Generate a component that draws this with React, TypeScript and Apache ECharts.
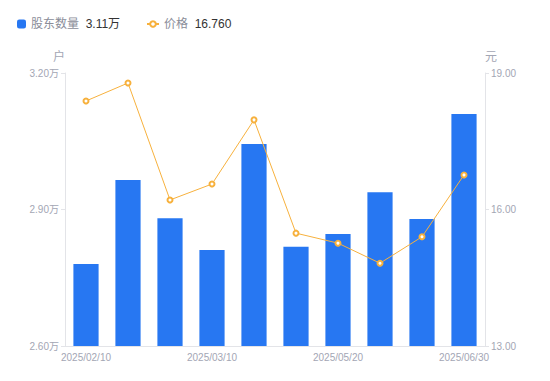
import React, { useEffect, useRef } from "react";
import * as echarts from "echarts";

const categories = [
  "2025/02/10", "2025/02/20", "2025/02/28", "2025/03/10", "2025/03/31",
  "2025/04/10", "2025/05/20", "2025/05/31", "2025/06/20", "2025/06/30",
];
const holders = [2.78, 2.965, 2.881, 2.811, 3.044, 2.818, 2.846, 2.938, 2.879, 3.11];
const prices = [18.385, 18.78, 16.21, 16.56, 17.97, 15.48, 15.26, 14.82, 15.4, 16.76];
const holderTicks = { min: 2.6, max: 3.2, interval: 0.3 };
const priceTicks = { min: 13, max: 19, interval: 3 };

export default function App() {
  const ref = useRef<HTMLDivElement>(null);
  useEffect(() => {
    document.body.style.margin = "0";
    if (!ref.current) return;
    const chart = echarts.init(ref.current, null, { renderer: "svg" });
    const labelColor = "#a3a6b4";
    const lineColor = "#e3e4e8";
    const fontFamily = "'Liberation Sans', 'Noto Sans CJK SC', sans-serif";
    const lastH = holders[holders.length - 1];
    const lastP = prices[prices.length - 1];
    const rich = {
      n: { color: "#8a8d99", fontSize: 12, fontFamily },
      v: { color: "#333333", fontSize: 12, fontFamily },
    };
    chart.setOption({
      animation: false,
      textStyle: { fontFamily },
      legend: [
        {
          left: 12,
          top: 13,
          itemWidth: 9,
          itemHeight: 9,
          itemGap: 5,
          data: [{ name: "股东数量", icon: "roundRect" }],
          formatter: (name: string) => `{n|${name}}  {v|${lastH.toFixed(2)}万}`,
          textStyle: { rich },
        },
        {
          left: 141,
          top: 13,
          itemWidth: 12,
          itemHeight: 7,
          data: [{ name: "价格" }],
          formatter: (name: string) => `{n|${name}}  {v|${lastP.toFixed(3)}}`,
          textStyle: { rich },
        },
      ],
      grid: { left: 65, right: 65, top: 73, bottom: 35 },
      xAxis: {
        type: "category",
        data: categories,
        axisLine: { lineStyle: { color: lineColor } },
        axisTick: { show: false },
        axisLabel: { color: labelColor, fontSize: 10, interval: 2, margin: 6 },
      },
      yAxis: [
        {
          type: "value",
          name: "户",
          nameTextStyle: { color: labelColor, fontSize: 12, align: "right" },
          nameGap: 10,
          min: holderTicks.min,
          max: holderTicks.max,
          interval: holderTicks.interval,
          axisLine: { show: true, lineStyle: { color: lineColor } },
          axisTick: { show: true, length: 4, lineStyle: { color: lineColor } },
          splitLine: { show: false },
          axisLabel: {
            color: labelColor,
            fontSize: 10,
            margin: 6,
            formatter: (v: number) => v.toFixed(2) + "万",
          },
        },
        {
          type: "value",
          name: "元",
          nameTextStyle: { color: labelColor, fontSize: 12, align: "left" },
          nameGap: 10,
          min: priceTicks.min,
          max: priceTicks.max,
          interval: priceTicks.interval,
          axisLine: { show: true, lineStyle: { color: lineColor } },
          axisTick: { show: true, length: 4, lineStyle: { color: lineColor } },
          splitLine: { show: false },
          axisLabel: {
            color: labelColor,
            fontSize: 10,
            margin: 6,
            formatter: (v: number) => v.toFixed(2),
          },
        },
      ],
      series: [
        {
          name: "股东数量",
          type: "bar",
          data: holders,
          barWidth: "60%",
          itemStyle: { color: "#2777f2" },
        },
        {
          name: "价格",
          type: "line",
          yAxisIndex: 1,
          data: prices,
          symbol: "emptyCircle",
          symbolSize: 5,
          itemStyle: { color: "#f7b13d", borderWidth: 1.5 },
          lineStyle: { color: "#f7b13d", width: 1 },
        },
      ],
    });
    return () => chart.dispose();
  }, []);
  return <div ref={ref} style={{ width: 550, height: 381 }} />;
}
